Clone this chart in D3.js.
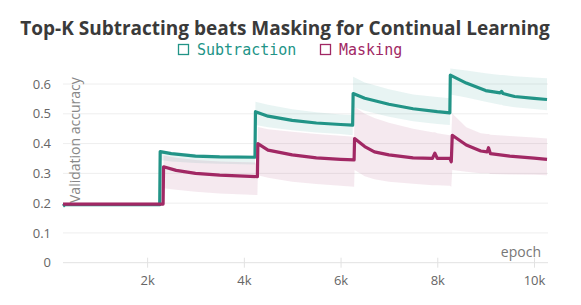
<!DOCTYPE html>
<html>
<head>
<meta charset="utf-8">
<script src="https://cdn.jsdelivr.net/npm/d3@7"></script>
<style>
  html, body { margin: 0; padding: 0; background: #fff; }
  svg { display: block; }
</style>
</head>
<body>
<div id="chart"></div>
<script>
// chart data
var subEpoch = [260, 300, 2260, 2270, 2500, 3000, 3500, 4230, 4240, 4500, 5000, 5500, 6000, 6250, 6260, 6500, 7000, 7500, 8000, 8260, 8270, 8600, 9000, 9300, 9330, 9360, 9600, 10000, 10270];
var subMean  = [0.19, 0.195, 0.195, 0.373, 0.366, 0.358, 0.355, 0.354, 0.507, 0.492, 0.478, 0.469, 0.464, 0.462, 0.568, 0.552, 0.532, 0.517, 0.507, 0.503, 0.63, 0.603, 0.578, 0.570, 0.575, 0.568, 0.558, 0.552, 0.548];
var subLow   = [0.187, 0.19, 0.19, 0.345, 0.34, 0.335, 0.332, 0.33, 0.462, 0.455, 0.445, 0.437, 0.432, 0.428, 0.523, 0.51, 0.49, 0.475, 0.466, 0.462, 0.565, 0.555, 0.54, 0.53, 0.53, 0.528, 0.522, 0.516, 0.512];
var subHigh  = [0.197, 0.2, 0.2, 0.378, 0.372, 0.365, 0.362, 0.36, 0.54, 0.53, 0.515, 0.505, 0.498, 0.496, 0.624, 0.605, 0.582, 0.565, 0.556, 0.552, 0.652, 0.645, 0.636, 0.63, 0.63, 0.63, 0.626, 0.622, 0.619];

var maskEpoch = [260, 2330, 2340, 2600, 3000, 3500, 4280, 4290, 4500, 5000, 5500, 6000, 6280, 6290, 6500, 6700, 7000, 7500, 7900, 7950, 8000, 8260, 8290, 8310, 8600, 8900, 9030, 9060, 9100, 9500, 10000, 10270];
var maskMean  = [0.197, 0.197, 0.322, 0.31, 0.3, 0.294, 0.289, 0.40, 0.378, 0.362, 0.352, 0.347, 0.345, 0.417, 0.39, 0.372, 0.362, 0.352, 0.35, 0.368, 0.35, 0.35, 0.339, 0.428, 0.395, 0.375, 0.372, 0.386, 0.366, 0.358, 0.351, 0.347];
var maskLow   = [0.193, 0.193, 0.25, 0.245, 0.238, 0.232, 0.227, 0.294, 0.285, 0.272, 0.264, 0.258, 0.255, 0.311, 0.29, 0.28, 0.272, 0.265, 0.26, 0.26, 0.26, 0.258, 0.255, 0.311, 0.305, 0.3, 0.3, 0.3, 0.298, 0.296, 0.295, 0.294];
var maskHigh  = [0.201, 0.201, 0.36, 0.352, 0.345, 0.34, 0.336, 0.456, 0.448, 0.44, 0.432, 0.426, 0.423, 0.523, 0.5, 0.486, 0.47, 0.45, 0.438, 0.438, 0.435, 0.428, 0.428, 0.501, 0.455, 0.435, 0.432, 0.432, 0.43, 0.425, 0.42, 0.417];

var seriesNames = ["Subtraction", "Masking"];
var seriesColors = ["#229487", "#A12864"];
var yTicks = [0, 0.1, 0.2, 0.3, 0.4, 0.5, 0.6];
var xTicks = [2000, 4000, 6000, 8000, 10000];

var width = 581, height = 305;
var svg = d3.select("#chart").append("svg")
    .attr("width", width)
    .attr("height", height)
    .attr("viewBox", [0, 0, width, height]);

var x = d3.scaleLinear().domain([260, 10290]).range([63, 548]);
var y = d3.scaleLinear().domain([0, 0.6]).range([262.7, 84]);

// title
svg.append("text")
    .attr("x", 285).attr("y", 35)
    .attr("text-anchor", "middle")
    .attr("font-family", "'Open Sans', sans-serif")
    .attr("font-weight", "bold")
    .attr("font-size", 19)
    .attr("fill", "#3a3a3a")
    .text("Top-K Subtracting beats Masking for Continual Learning");

// legend
var legendX = [178, 320];
seriesNames.forEach(function (name, i) {
    var g = svg.append("g").attr("transform", "translate(" + legendX[i] + ",0)");
    g.append("rect")
        .attr("x", 0.5).attr("y", 44.5)
        .attr("width", 10).attr("height", 10)
        .attr("fill", "none")
        .attr("stroke", seriesColors[i])
        .attr("stroke-width", 1.3);
    g.append("text")
        .attr("x", 19).attr("y", 55)
        .attr("font-family", "'DejaVu Sans Mono', monospace")
        .attr("font-size", 15)
        .attr("fill", seriesColors[i])
        .text(name);
});

// grid
svg.append("g").selectAll("line")
    .data(yTicks.filter(d => d > 0))
    .enter().append("line")
    .attr("x1", 63).attr("x2", 548)
    .attr("y1", d => y(d)).attr("y2", d => y(d))
    .attr("stroke", "#eeeeee")
    .attr("stroke-width", 1);

// y axis
var yAxis = d3.axisLeft(y)
    .tickValues(yTicks)
    .tickSize(0)
    .tickPadding(0)
    .tickFormat(d => d === 0 ? "0" : d3.format(".1f")(d));
var yg = svg.append("g").attr("transform", "translate(51,0)").call(yAxis);
yg.select(".domain").remove();
yg.selectAll("text")
    .attr("font-family", "'Open Sans', sans-serif")
    .attr("font-size", 13)
    .attr("fill", "#666");

// x axis
var xAxis = d3.axisBottom(x)
    .tickValues(xTicks)
    .tickSize(10)
    .tickPadding(8)
    .tickFormat(d => (d / 1000) + "k");
var xg = svg.append("g").attr("transform", "translate(0," + (y(0) - 5) + ")").call(xAxis);
xg.select(".domain").remove();
xg.selectAll("line").attr("stroke", "#e2e2e2");
xg.selectAll("text")
    .attr("font-family", "'Open Sans', sans-serif")
    .attr("font-size", 13)
    .attr("fill", "#666");
svg.append("line")
    .attr("x1", 63).attr("x2", 548)
    .attr("y1", y(0)).attr("y2", y(0))
    .attr("stroke", "#e2e2e2");

// axis titles
svg.append("text")
    .attr("x", 541).attr("y", 257)
    .attr("text-anchor", "end")
    .attr("font-family", "'Open Sans', sans-serif")
    .attr("font-size", 14)
    .attr("fill", "#777")
    .text("epoch");

svg.append("text")
    .attr("transform", "translate(80,203) rotate(-90)")
    .attr("text-anchor", "start")
    .attr("font-family", "'Open Sans', sans-serif")
    .attr("font-size", 14)
    .attr("fill", "#888")
    .text("Validation accuracy");

// bands and lines
var series = [
    { epoch: subEpoch, mean: subMean, low: subLow, high: subHigh, color: seriesColors[0] },
    { epoch: maskEpoch, mean: maskMean, low: maskLow, high: maskHigh, color: seriesColors[1] }
];

var area = d3.area()
    .x(d => x(d.e))
    .y0(d => y(d.lo))
    .y1(d => y(d.hi));
var line = d3.line()
    .x(d => x(d.e))
    .y(d => y(d.m));

series.forEach(function (s) {
    var pts = s.epoch.map((e, i) => ({ e: e, m: s.mean[i], lo: s.low[i], hi: s.high[i] }));
    svg.append("path")
        .datum(pts)
        .attr("d", area)
        .attr("fill", s.color)
        .attr("fill-opacity", 0.1);
});
series.forEach(function (s) {
    var pts = s.epoch.map((e, i) => ({ e: e, m: s.mean[i] }));
    svg.append("path")
        .datum(pts)
        .attr("d", line)
        .attr("fill", "none")
        .attr("stroke", s.color)
        .attr("stroke-width", 3.2)
        .attr("stroke-linejoin", "round");
});
</script>
</body>
</html>
